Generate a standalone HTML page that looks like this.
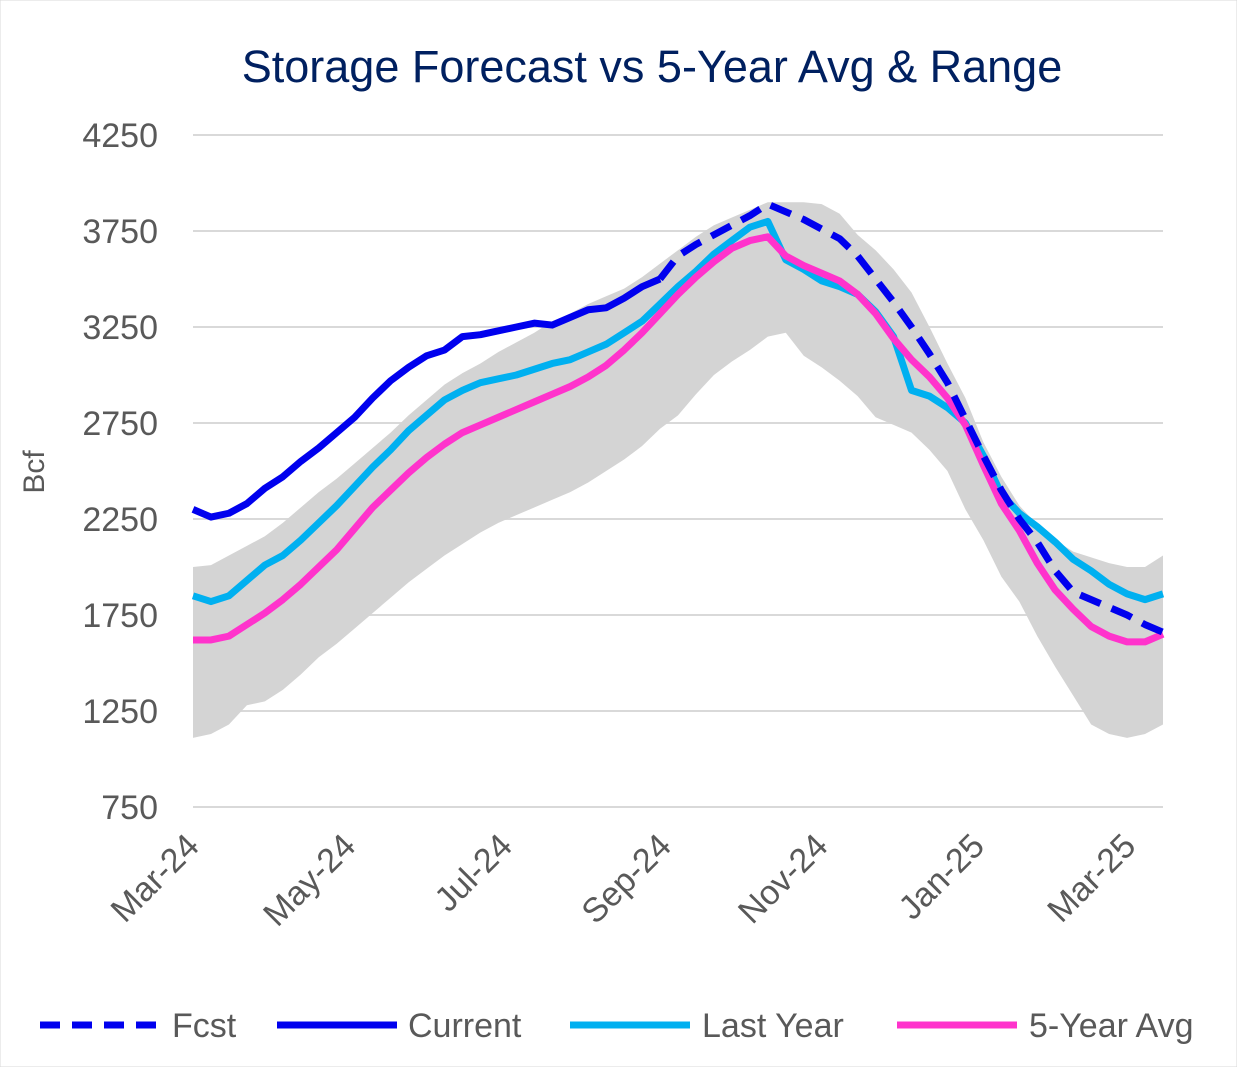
<!DOCTYPE html>
<html><head><meta charset="utf-8"><style>
body{margin:0;background:#fff;}
svg{display:block;font-family:"Liberation Sans",sans-serif;}
</style></head><body>
<svg id="chart" width="1237" height="1067" viewBox="0 0 1237 1067">
<rect x="0" y="0" width="1237" height="1067" fill="#fff" stroke="#d9d9d9"/>
<text x="652" y="82" text-anchor="middle" font-size="45" fill="#002060">Storage Forecast vs 5-Year Avg &amp; Range</text>
<g id="grid"></g><g id="band"></g><g id="lines"></g><g id="yaxis"></g><g id="xaxis"></g>
<text transform="translate(44,472) rotate(-90)" text-anchor="middle" font-size="30" fill="#595959">Bcf</text>
<g>
<g><line x1="40" y1="1025" x2="160" y2="1025" stroke="#0000ee" stroke-width="7" stroke-dasharray="20,12"/><text x="172" y="1037" font-size="34" fill="#595959">Fcst</text></g>
<g><line x1="277" y1="1025" x2="397" y2="1025" stroke="#0000ee" stroke-width="7"/><text x="408" y="1037" font-size="34" fill="#595959">Current</text></g>
<g><line x1="570" y1="1025" x2="690" y2="1025" stroke="#00b0f0" stroke-width="7"/><text x="702" y="1037" font-size="34" fill="#595959">Last Year</text></g>
<g><line x1="897" y1="1025" x2="1017" y2="1025" stroke="#ff33cc" stroke-width="7"/><text x="1029" y="1037" font-size="34" fill="#595959">5-Year Avg</text></g>
</g>
</svg>
<script>
const yTicks=[750,1250,1750,2250,2750,3250,3750,4250];
const xLabels=["Mar-24","May-24","Jul-24","Sep-24","Nov-24","Jan-25","Mar-25"];
const xLabelDays=[0,61,122,184,245,306,365];
const current=[2300,2260,2280,2330,2410,2470,2550,2620,2700,2780,2880,2970,3040,3100,3130,3200,3210,3230,3250,3270,3260,3300,3340,3350,3400,3460,3500];
const fcst=[3500,3620,3680,3730,3780,3830,3890,3850,3810,3760,3710,3620,3500,3380,3250,3110,2960,2770,2580,2400,2250,2130,1980,1870,1830,1790,1750,1700,1660];
const lastYear=[1850,1820,1850,1930,2010,2060,2140,2230,2320,2420,2520,2610,2710,2790,2870,2920,2960,2980,3000,3030,3060,3080,3120,3160,3220,3280,3370,3460,3540,3630,3700,3770,3800,3600,3550,3490,3460,3420,3330,3200,2920,2890,2830,2750,2580,2380,2280,2210,2130,2040,1980,1910,1860,1830,1860];
const avg5=[1620,1620,1640,1700,1760,1830,1910,2000,2090,2200,2310,2400,2490,2570,2640,2700,2740,2780,2820,2860,2900,2940,2990,3050,3130,3220,3320,3420,3510,3590,3660,3700,3720,3620,3570,3530,3490,3420,3320,3190,3080,2990,2880,2740,2530,2330,2190,2020,1880,1780,1690,1640,1610,1610,1650];
const rangeHigh=[2000,2010,2060,2110,2160,2230,2310,2390,2460,2540,2620,2700,2790,2870,2950,3010,3060,3120,3170,3220,3280,3320,3370,3410,3450,3510,3580,3650,3720,3780,3820,3860,3900,3900,3900,3890,3840,3730,3650,3550,3430,3250,3060,2880,2650,2470,2320,2220,2140,2080,2050,2020,2000,2000,2060];
const rangeLow=[1110,1130,1180,1280,1300,1360,1440,1530,1600,1680,1760,1840,1920,1990,2060,2120,2180,2230,2270,2310,2350,2390,2440,2500,2560,2630,2720,2790,2900,3000,3070,3130,3200,3220,3100,3040,2970,2890,2780,2740,2700,2610,2500,2300,2140,1950,1820,1640,1480,1330,1180,1130,1110,1130,1180];
const fcstStart=26;
const NS="http://www.w3.org/2000/svg";
const X0=193,X1=1163,N=54;
const x=i=>X0+i*(X1-X0)/N;
const xd=d=>X0+d*(X1-X0)/(N*7);
const y=v=>135+(4250-v)*0.192;
function mk(t,p,a){const e=document.createElementNS(NS,t);for(const k in a)e.setAttribute(k,a[k]);p.appendChild(e);return e;}
const grid=document.getElementById('grid'),yax=document.getElementById('yaxis');
yTicks.forEach(v=>{
 const l=mk('line',grid,{x1:X0,x2:X1,y1:y(v),y2:y(v),stroke:'#d9d9d9','stroke-width':2});
 
 
 const t=mk('text',yax,{x:158,y:y(v)+12,'text-anchor':'end','font-size':34,fill:'#595959'});
 t.textContent=v;
 
 
});
const xax=document.getElementById('xaxis');
xLabels.forEach((s,k)=>{
 const px=xd(xLabelDays[k])+8,py=848;
 const t=mk('text',xax,{x:px,y:py,'text-anchor':'end','font-size':34,fill:'#595959',transform:`rotate(-45 ${px} ${py})`});
 t.textContent=s;
 
 
});
let d='';rangeHigh.forEach((v,i)=>d+=(i?'L':'M')+x(i)+','+y(v));
for(let i=rangeLow.length-1;i>=0;i--)d+='L'+x(i)+','+y(rangeLow[i]);
const band=mk('path',document.getElementById('band'),{d:d+'Z',fill:'#d4d4d4'});


const lines=document.getElementById('lines');
function series(arr,off,color,name,dash){
 const pts=arr.map((v,i)=>x(i+off)+','+y(v)).join(' ');
 const p=mk('polyline',lines,{points:pts,fill:'none',stroke:color,'stroke-width':7,'stroke-linejoin':'round'});
 if(dash)p.setAttribute('stroke-dasharray',dash);
 
 
}
series(lastYear,0,'#00b0f0','last-year-line');
series(avg5,0,'#ff33cc','5-year-avg-line');
series(current,0,'#0000ee','current-line');
series(fcst,fcstStart,'#0000ee','fcst-line','22,12');
</script>
</body></html>
